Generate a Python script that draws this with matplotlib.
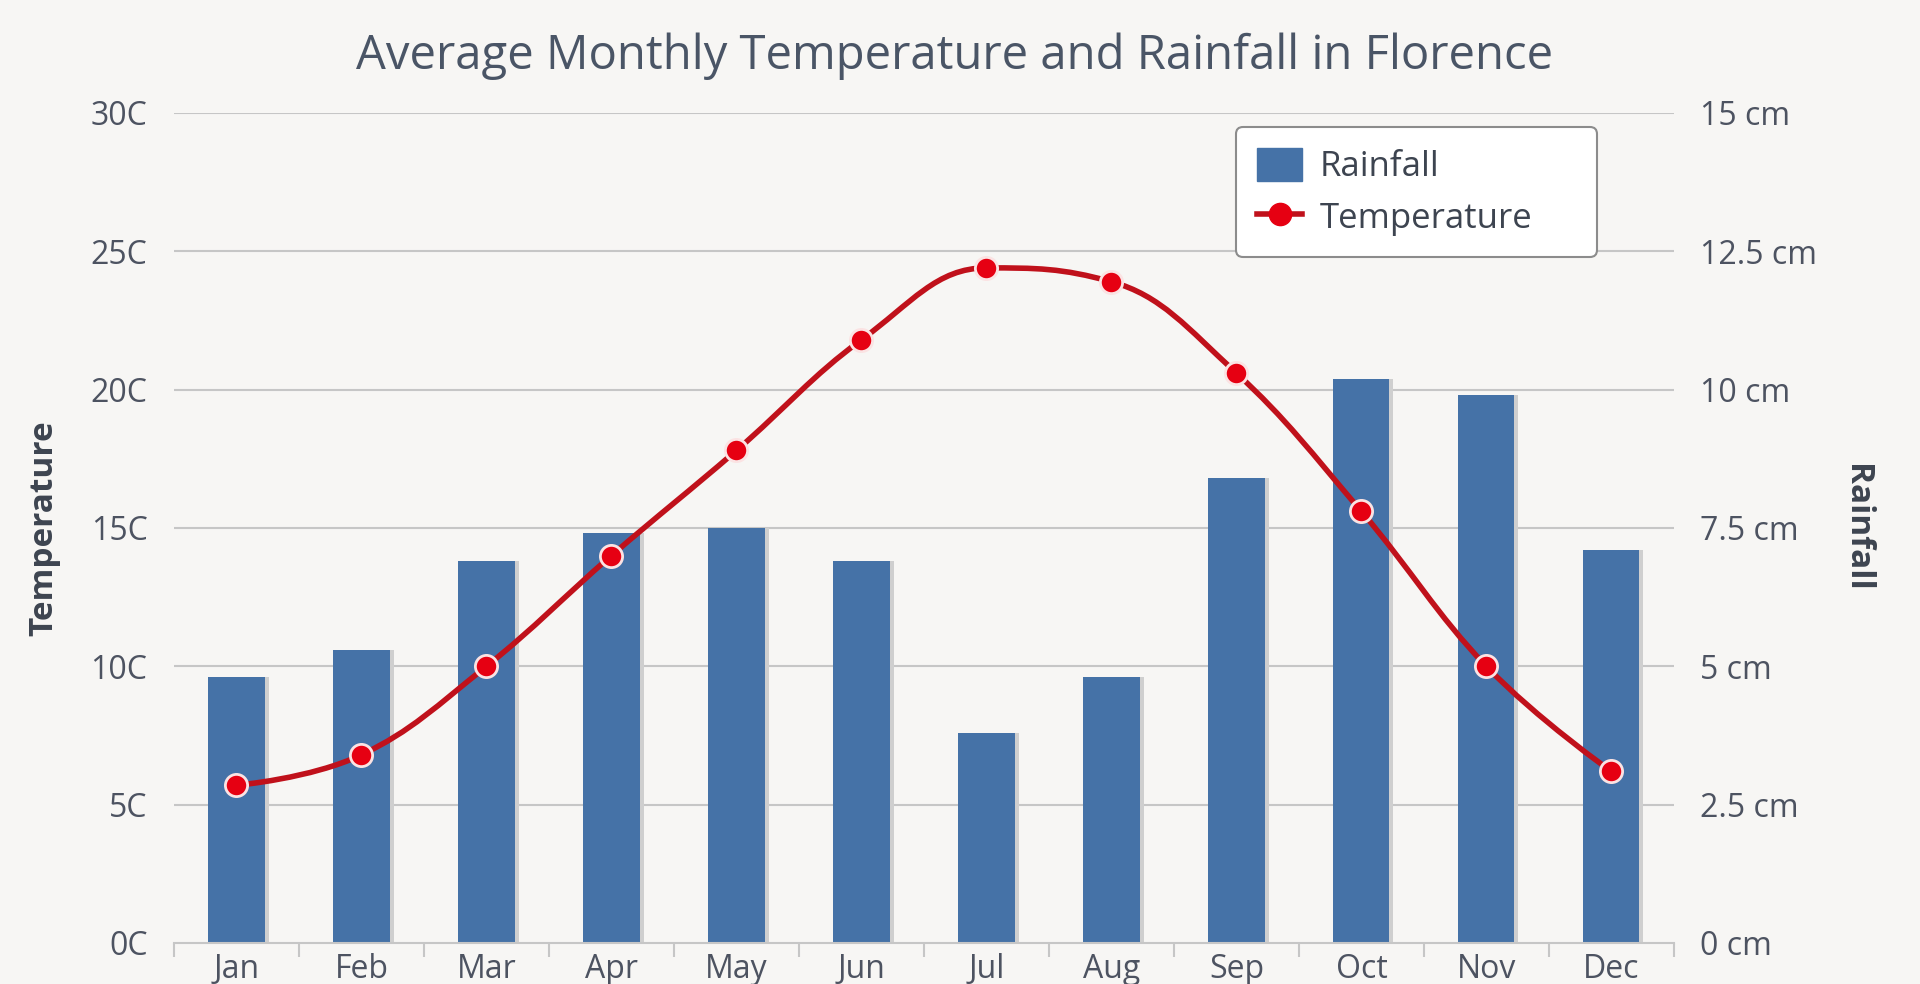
import numpy as np
import matplotlib
matplotlib.use("Agg")
import matplotlib.pyplot as plt
from matplotlib.path import Path
from matplotlib.patches import PathPatch, Patch
from matplotlib.lines import Line2D
import matplotlib.transforms as mtransforms

# data
months = ["Jan", "Feb", "Mar", "Apr", "May", "Jun", "Jul", "Aug", "Sep", "Oct", "Nov", "Dec"]
temperature = [5.7, 6.8, 10.0, 14.0, 17.8, 21.8, 24.4, 23.9, 20.6, 15.6, 10.0, 6.2]
rainfall = [4.8, 5.3, 6.9, 7.4, 7.5, 6.9, 3.8, 4.8, 8.4, 10.2, 9.9, 7.1]
temp_ticks = [0, 5, 10, 15, 20, 25, 30]
rain_ticks = [0, 2.5, 5, 7.5, 10, 12.5, 15]

bg = "#f7f6f4"
txt = "#4d5361"
grid_c = "#c6c6c6"
bar_c = "#4572a7"
line_c = "#c0111b"
mark_c = "#e60012"

plt.rcParams["font.family"] = ["Open Sans", "DejaVu Sans"]

fig = plt.figure(figsize=(19.2, 9.84), dpi=100, facecolor=bg)
ax = fig.add_axes([0.0906, 0.0417, 0.7812, 0.8435])
ax.set_facecolor(bg)
ax2 = ax.twinx()

x = np.arange(len(months))

# rainfall bars on right axis, with a soft shadow
shadow_tr = mtransforms.offset_copy(ax2.transData, fig=fig, x=4, y=0, units="dots")
ax2.bar(x, rainfall, width=0.45, color="#cfcfcf", transform=shadow_tr, zorder=1)
ax2.bar(x, rainfall, width=0.45, color=bar_c, zorder=2)
ax2.set_ylim(0, 15)
ax2.set_yticks(rain_ticks)
ax2.set_yticklabels([("%g cm" % v) for v in rain_ticks])

# temperature spline (highcharts style bezier through the points)
def spline_path(xs, ys, smooth=1.5):
    n = len(xs)
    verts = [(xs[0], ys[0])]
    codes = [Path.MOVETO]
    conts = []
    for i in range(n):
        if i == 0 or i == n - 1:
            conts.append(((xs[i], ys[i]), (xs[i], ys[i])))
            continue
        d = smooth + 1
        lx = (smooth * xs[i] + xs[i - 1]) / d
        ly = (smooth * ys[i] + ys[i - 1]) / d
        rx = (smooth * xs[i] + xs[i + 1]) / d
        ry = (smooth * ys[i] + ys[i + 1]) / d
        corr = (ry - ly) * (rx - xs[i]) / (rx - lx) + ys[i] - ry
        ly += corr
        ry += corr
        if ly > ys[i - 1] and ly > ys[i]:
            ly = max(ys[i - 1], ys[i]); ry = 2 * ys[i] - ly
        elif ly < ys[i - 1] and ly < ys[i]:
            ly = min(ys[i - 1], ys[i]); ry = 2 * ys[i] - ly
        if ry > ys[i + 1] and ry > ys[i]:
            ry = max(ys[i + 1], ys[i]); ly = 2 * ys[i] - ry
        elif ry < ys[i + 1] and ry < ys[i]:
            ry = min(ys[i + 1], ys[i]); ly = 2 * ys[i] - ry
        conts.append(((lx, ly), (rx, ry)))
    for i in range(1, n):
        verts += [conts[i - 1][1], conts[i][0], (xs[i], ys[i])]
        codes += [Path.CURVE4] * 3
    return Path(verts, codes)

ax.set_zorder(ax2.get_zorder() + 1)
ax.patch.set_visible(False)
ax.add_patch(PathPatch(spline_path(list(x), temperature), fill=False,
                       edgecolor=line_c, lw=4, zorder=3))
ax.plot(x, temperature, ls="none", marker="o", ms=16, mfc=mark_c, mec="#fbe3e3",
        mew=2, zorder=4)

ax.set_xlim(-0.5, 11.5)
ax.set_ylim(0, 30)
ax.set_yticks(temp_ticks)
ax.set_yticklabels([("%dC" % v) for v in temp_ticks])
for v in temp_ticks[1:]:
    ax2.axhline(v / 2.0, color=grid_c, lw=1.5, zorder=0)

ax.set_xticks(x)
ax.set_xticklabels(months)
ax.set_xticks(np.arange(-0.5, 12, 1), minor=True)
ax.tick_params(axis="x", which="major", length=0, labelsize=23, labelcolor=txt, pad=7)
ax.tick_params(axis="x", which="minor", length=10, width=1.5, color=grid_c)
ax.tick_params(axis="y", length=0, labelsize=23, labelcolor=txt, pad=19)
ax2.tick_params(axis="y", length=0, labelsize=23, labelcolor=txt, pad=19)

for a in (ax, ax2):
    for s in a.spines.values():
        s.set_visible(False)
ax.spines["bottom"].set_visible(True)
ax.spines["bottom"].set_color(grid_c)
ax.spines["bottom"].set_linewidth(1.5)

ax.set_ylabel("Temperature", fontsize=24, fontweight="bold", color="#3d4450", labelpad=22)
ax2.set_ylabel("Rainfall", fontsize=24, fontweight="bold", color="#3d4450", rotation=270,
               labelpad=40)

fig.text(0.497, 0.943, "Average Monthly Temperature and Rainfall in Florence",
         ha="center", va="center", fontsize=34, color="#4a5566")

handles = [Patch(facecolor=bar_c, edgecolor=bar_c),
           Line2D([0], [0], color=line_c, lw=4, marker="o", ms=16, mfc=mark_c, mec=mark_c)]
leg = fig.legend(handles, ["Rainfall", "Temperature"], loc="upper left",
                 bbox_to_anchor=(0.644, 0.871, 0.188, 0), mode="expand", borderaxespad=0,
                 fontsize=25, frameon=True, fancybox=True,
                 facecolor="white", edgecolor="#8c8c8c", labelcolor="#3d4450",
                 handlelength=1.3, handleheight=1.1, borderpad=0.6, labelspacing=0.45,
                 handletextpad=0.5)
leg.get_frame().set_linewidth(1.5)
leg.get_frame().set_alpha(1)

fig.savefig("out.png", dpi=100, facecolor=bg)
